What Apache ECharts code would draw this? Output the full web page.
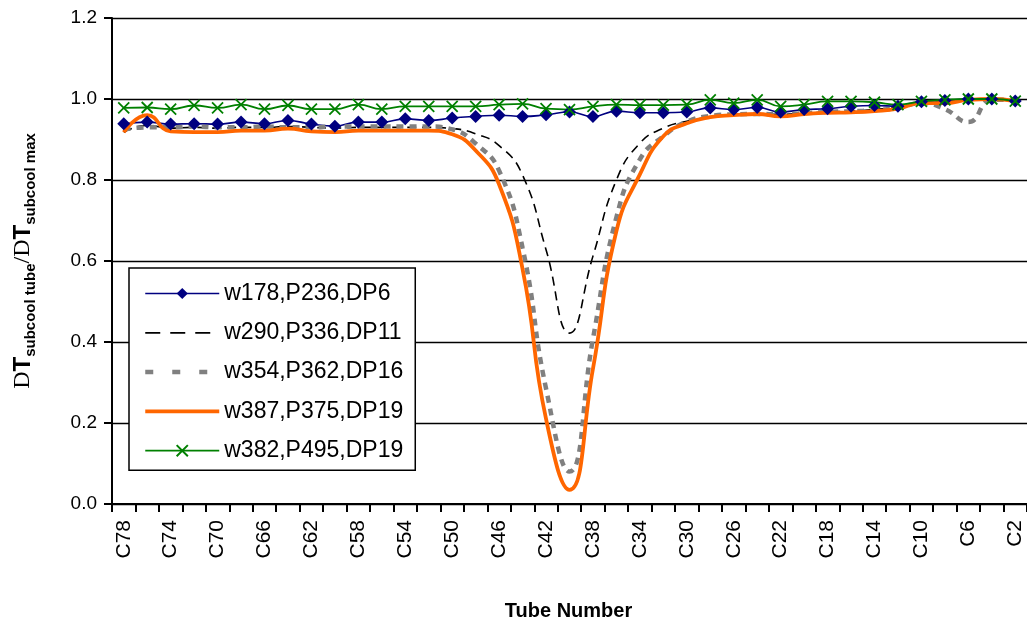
<!DOCTYPE html>
<html>
<head>
<meta charset="utf-8">
<script src="https://cdn.jsdelivr.net/npm/echarts@6/dist/echarts.min.js"></script>
<style>
  html, body { margin: 0; padding: 0; background: #ffffff; }
  #chart { width: 1027px; height: 626px; }
</style>
</head>
<body>
<div id="chart"></div>
<script>
// Tube positions, from C78 down to C2
const categories = [
  'C78','C76','C74','C72','C70','C68','C66','C64','C62','C60',
  'C58','C56','C54','C52','C50','C48','C46','C44','C42','C40',
  'C38','C36','C34','C32','C30','C28','C26','C24','C22','C20',
  'C18','C16','C14','C12','C10','C8','C6','C4','C2'
];

const yTicks = [0, 0.2, 0.4, 0.6, 0.8, 1.0, 1.2];

// Normalised subcooling per tube for each operating point
const w178 = [
  0.939, 0.943, 0.938, 0.939, 0.938, 0.943, 0.939, 0.947, 0.938, 0.933,
  0.943, 0.943, 0.951, 0.947, 0.953, 0.957, 0.960, 0.957, 0.961, 0.968,
  0.957, 0.970, 0.966, 0.966, 0.968, 0.978, 0.974, 0.979, 0.968, 0.974,
  0.976, 0.982, 0.984, 0.982, 0.993, 0.996, 1.000, 1.000, 0.995
];
const w290 = [
  0.918, 0.935, 0.928, 0.930, 0.928, 0.930, 0.930, 0.932, 0.930, 0.928,
  0.930, 0.930, 0.930, 0.930, 0.927, 0.914, 0.885, 0.812, 0.628, 0.422,
  0.612, 0.800, 0.891, 0.928, 0.945, 0.955, 0.960, 0.963, 0.962, 0.965,
  0.968, 0.970, 0.974, 0.980, 0.990, 0.993, 0.997, 1.000, 0.995
];
const w354 = [
  0.925, 0.930, 0.930, 0.932, 0.930, 0.930, 0.932, 0.930, 0.930, 0.932,
  0.932, 0.932, 0.932, 0.932, 0.925, 0.890, 0.823, 0.632, 0.285, 0.080,
  0.408, 0.708, 0.851, 0.908, 0.944, 0.958, 0.962, 0.963, 0.962, 0.965,
  0.968, 0.970, 0.972, 0.978, 0.990, 0.975, 0.943, 0.998, 0.998
];
const w387 = [
  0.918, 0.960, 0.920, 0.918, 0.918, 0.922, 0.922, 0.927, 0.920, 0.918,
  0.922, 0.922, 0.922, 0.922, 0.913, 0.873, 0.789, 0.580, 0.210, 0.035,
  0.334, 0.674, 0.814, 0.908, 0.940, 0.955, 0.960, 0.963, 0.957, 0.963,
  0.966, 0.967, 0.970, 0.976, 0.990, 0.990, 0.998, 1.000, 0.995
];
const w382 = [
  0.978, 0.979, 0.975, 0.984, 0.978, 0.986, 0.975, 0.984, 0.975, 0.975,
  0.986, 0.975, 0.982, 0.982, 0.982, 0.982, 0.986, 0.988, 0.976, 0.974,
  0.982, 0.986, 0.985, 0.985, 0.986, 0.998, 0.990, 0.998, 0.982, 0.986,
  0.994, 0.994, 0.992, 0.986, 0.994, 0.998, 1.000, 1.000, 0.995
];

const seriesNames = [
  'w178,P236,DP6',
  'w290,P336,DP11',
  'w354,P362,DP16',
  'w387,P375,DP19',
  'w382,P495,DP19'
];

const FONT = '"Liberation Sans", Arial, sans-serif';
const SERIF = '"Liberation Serif", "Times New Roman", serif';
const CROSS = 'path://M0,0L10,10M10,0L0,10';

const chart = echarts.init(document.getElementById('chart'), null, { renderer: 'canvas' });

chart.setOption({
  animation: false,
  backgroundColor: '#ffffff',
  textStyle: { fontFamily: FONT, color: '#000' },
  grid: { left: 112, top: 18, right: -8.5, bottom: 120, containLabel: false },
  legend: {
    orient: 'vertical',
    left: 129,
    top: 268,
    itemWidth: 74,
    itemHeight: 14,
    itemGap: 16.3,
    padding: [14, 12, 8, 14],
    backgroundColor: '#ffffff',
    borderColor: '#000000',
    borderWidth: 1.5,
    borderRadius: 0,
    textStyle: { fontFamily: FONT, fontSize: 23, lineHeight: 22, color: '#000' },
    data: [
      { name: seriesNames[0], lineStyle: { width: 1.6 } },
      { name: seriesNames[1], itemStyle: { opacity: 0 }, lineStyle: { width: 1.8, type: [15, 10] } },
      { name: seriesNames[2], itemStyle: { opacity: 0 }, lineStyle: { width: 4.5, type: [8, 19], cap: 'butt' } },
      { name: seriesNames[3], itemStyle: { opacity: 0 }, lineStyle: { width: 3.8 } },
      { name: seriesNames[4], lineStyle: { width: 1.8 } }
    ]
  },
  xAxis: {
    type: 'category',
    data: categories,
    boundaryGap: true,
    name: 'Tube Number',
    nameLocation: 'middle',
    nameGap: 97,
    nameTextStyle: { fontFamily: FONT, fontSize: 20, fontWeight: 'bold', color: '#000', padding: [0, 2, 0, 0] },
    axisLine: { lineStyle: { color: '#000', width: 2 } },
    axisTick: { show: true, interval: 0, length: 8, lineStyle: { color: '#000', width: 2 } },
    axisLabel: {
      interval: 1,
      rotate: 90,
      margin: 16,
      fontFamily: FONT,
      fontSize: 21,
      color: '#000'
    },
    splitLine: { show: false }
  },
  yAxis: {
    type: 'value',
    min: yTicks[0],
    max: yTicks[yTicks.length - 1],
    interval: 0.2,
    name: '{d|D}{t|T}{s|subcool tube}{sl|/}{d|D}{t|T}{s|subcool max}',
    nameLocation: 'middle',
    nameRotate: 90,
    nameGap: 74,
    nameTextStyle: {
      rich: {
        d: { fontFamily: SERIF, fontSize: 24, lineHeight: 30, color: '#000' },
        t: { fontFamily: FONT, fontSize: 24, fontWeight: 'bold', lineHeight: 30, color: '#000' },
        sl: { fontFamily: SERIF, fontSize: 24, lineHeight: 30, color: '#000' },
        s: { fontFamily: FONT, fontSize: 15, fontWeight: 'bold', lineHeight: 15, verticalAlign: 'bottom', color: '#000' }
      }
    },
    axisLine: { show: true, lineStyle: { color: '#000', width: 2 } },
    axisTick: { show: true, length: 8, lineStyle: { color: '#000', width: 2 } },
    axisLabel: {
      margin: 15,
      fontFamily: FONT,
      fontSize: 19,
      color: '#000',
      formatter: v => v.toFixed(1)
    },
    splitLine: { show: true, lineStyle: { color: '#000', width: 1.3 } }
  },
  series: [
    {
      name: seriesNames[0],
      type: 'line',
      data: w178,
      smooth: 0.5,
      symbol: 'diamond',
      symbolSize: 13,
      itemStyle: { color: '#000080' },
      lineStyle: { color: '#000080', width: 1.6 }
    },
    {
      name: seriesNames[1],
      type: 'line',
      data: w290,
      smooth: 0.5,
      symbol: 'none',
      itemStyle: { color: '#000000' },
      lineStyle: { color: '#000000', width: 1.6, type: [9, 6] }
    },
    {
      name: seriesNames[2],
      type: 'line',
      data: w354,
      smooth: 0.5,
      symbol: 'none',
      itemStyle: { color: '#808080' },
      lineStyle: { color: '#808080', width: 4.5, type: [7, 6], cap: 'butt' }
    },
    {
      name: seriesNames[3],
      type: 'line',
      data: w387,
      smooth: 0.5,
      symbol: 'none',
      itemStyle: { color: '#FF6600' },
      lineStyle: { color: '#FF6600', width: 3.8 }
    },
    {
      name: seriesNames[4],
      type: 'line',
      data: w382,
      smooth: 0.5,
      symbol: CROSS,
      symbolSize: 11,
      itemStyle: { color: '#008000', borderColor: '#008000', borderWidth: 1.8 },
      lineStyle: { color: '#008000', width: 1.8 }
    }
  ]
});
</script>
</body>
</html>
